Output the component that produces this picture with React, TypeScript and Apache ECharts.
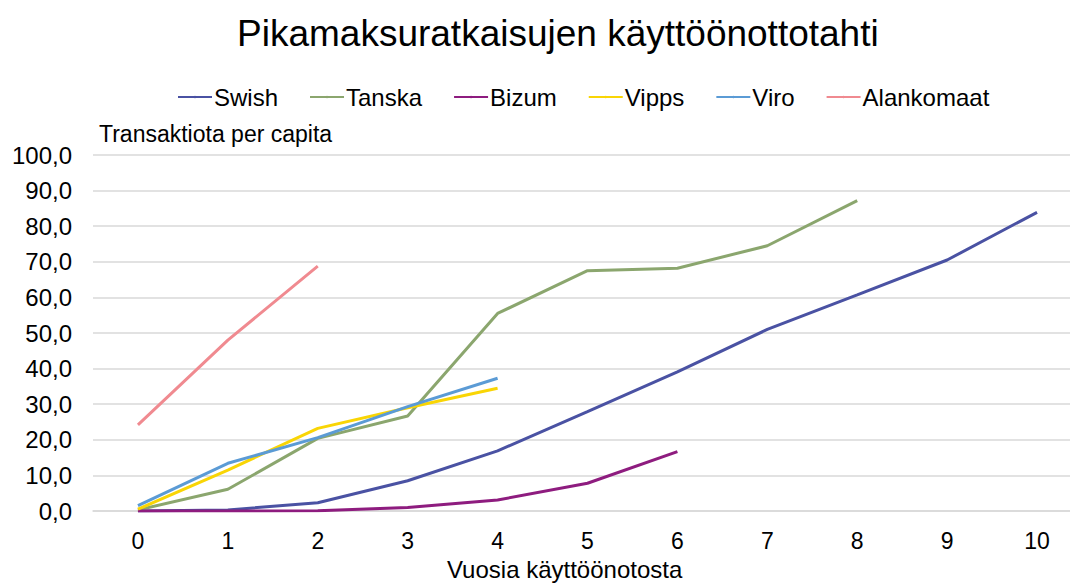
import React, { useEffect, useRef } from "react";
import * as echarts from "echarts";

const categories = ["0", "1", "2", "3", "4", "5", "6", "7", "8", "9", "10"];
const swish = [0, 0.3, 2.3, 8.5, 16.9, 27.9, 39.1, 51.0, 60.7, 70.5, 83.9];
const tanska = [0.3, 6.1, 20.4, 26.7, 55.5, 67.5, 68.2, 74.5, 87.2];
const bizum = [0, 0, 0.1, 1.0, 3.1, 7.8, 16.7];
const vipps = [0.5, 11.5, 23.2, 29.0, 34.5];
const viro = [1.5, 13.4, 20.6, 29.3, 37.3];
const alankomaat = [24.2, 48.0, 68.8];

const FONT = "'Liberation Sans', Arial, sans-serif";

export default function App() {
  const ref = useRef<HTMLDivElement>(null);
  useEffect(() => {
    const chart = echarts.init(ref.current!, null, { renderer: "svg" });
    const mk = (name: string, data: number[], color: string) => ({
      name,
      type: "line",
      data,
      symbol: "none",
      lineStyle: { color, width: 3 },
      itemStyle: { color },
    });
    chart.setOption({
      animation: false,
      backgroundColor: "#ffffff",
      title: {
        text: "Pikamaksuratkaisujen käyttöönottotahti",
        left: 232,
        top: 10,
        textStyle: { fontFamily: FONT, fontSize: 37, fontWeight: "normal", color: "#000" },
      },
      legend: {
        top: 80,
        left: 172,
        itemWidth: 34,
        itemHeight: 3,
        itemGap: 31,
        textStyle: { fontFamily: FONT, fontSize: 24, color: "#000", padding: [0, 0, 0, -3] },
        data: ["Swish", "Tanska", "Bizum", "Vipps", "Viro", "Alankomaat"],
      },
      graphic: [
        {
          type: "text",
          left: 447,
          top: 557,
          style: {
            text: "Vuosia käyttöönotosta",
            font: "24px 'Liberation Sans', Arial, sans-serif",
            fill: "#000",
          },
        },
      ],
      grid: {
        left: 93,
        width: 989,
        top: 155,
        bottom: 72,
        containLabel: false,
        outerBoundsMode: "none",
      },
      xAxis: {
        type: "category",
        data: categories,
        boundaryGap: true,
        axisLine: { show: true, lineStyle: { color: "#d9d9d9", width: 1.5 } },
        axisTick: { show: false },
        axisLabel: { fontFamily: FONT, fontSize: 23, color: "#000", margin: 18 },
      },
      yAxis: {
        type: "value",
        min: 0,
        max: 100,
        interval: 10,
        name: "Transaktiota per capita",
        nameLocation: "end",
        nameGap: 10,
        nameTextStyle: { fontFamily: FONT, fontSize: 23, color: "#000", align: "left", padding: [0, 0, 0, 6] },
        axisLine: { show: false },
        axisTick: { show: false },
        splitLine: { lineStyle: { color: "#d9d9d9", width: 1.5 } },
        axisLabel: {
          fontFamily: FONT,
          fontSize: 24,
          color: "#000",
          margin: 21,
          formatter: (v: number) => v.toFixed(1).replace(".", ","),
        },
      },
      series: [
        mk("Swish", swish, "#4A52A3"),
        mk("Tanska", tanska, "#8BA66E"),
        mk("Bizum", bizum, "#8E1C7F"),
        mk("Vipps", vipps, "#F9D505"),
        mk("Viro", viro, "#5B9BD5"),
        mk("Alankomaat", alankomaat, "#F08A90"),
      ],
    });
    return () => chart.dispose();
  }, []);
  return (
    <div
      ref={ref}
      style={{ position: "absolute", left: 0, top: 0, width: 1070, height: 583 }}
    />
  );
}
